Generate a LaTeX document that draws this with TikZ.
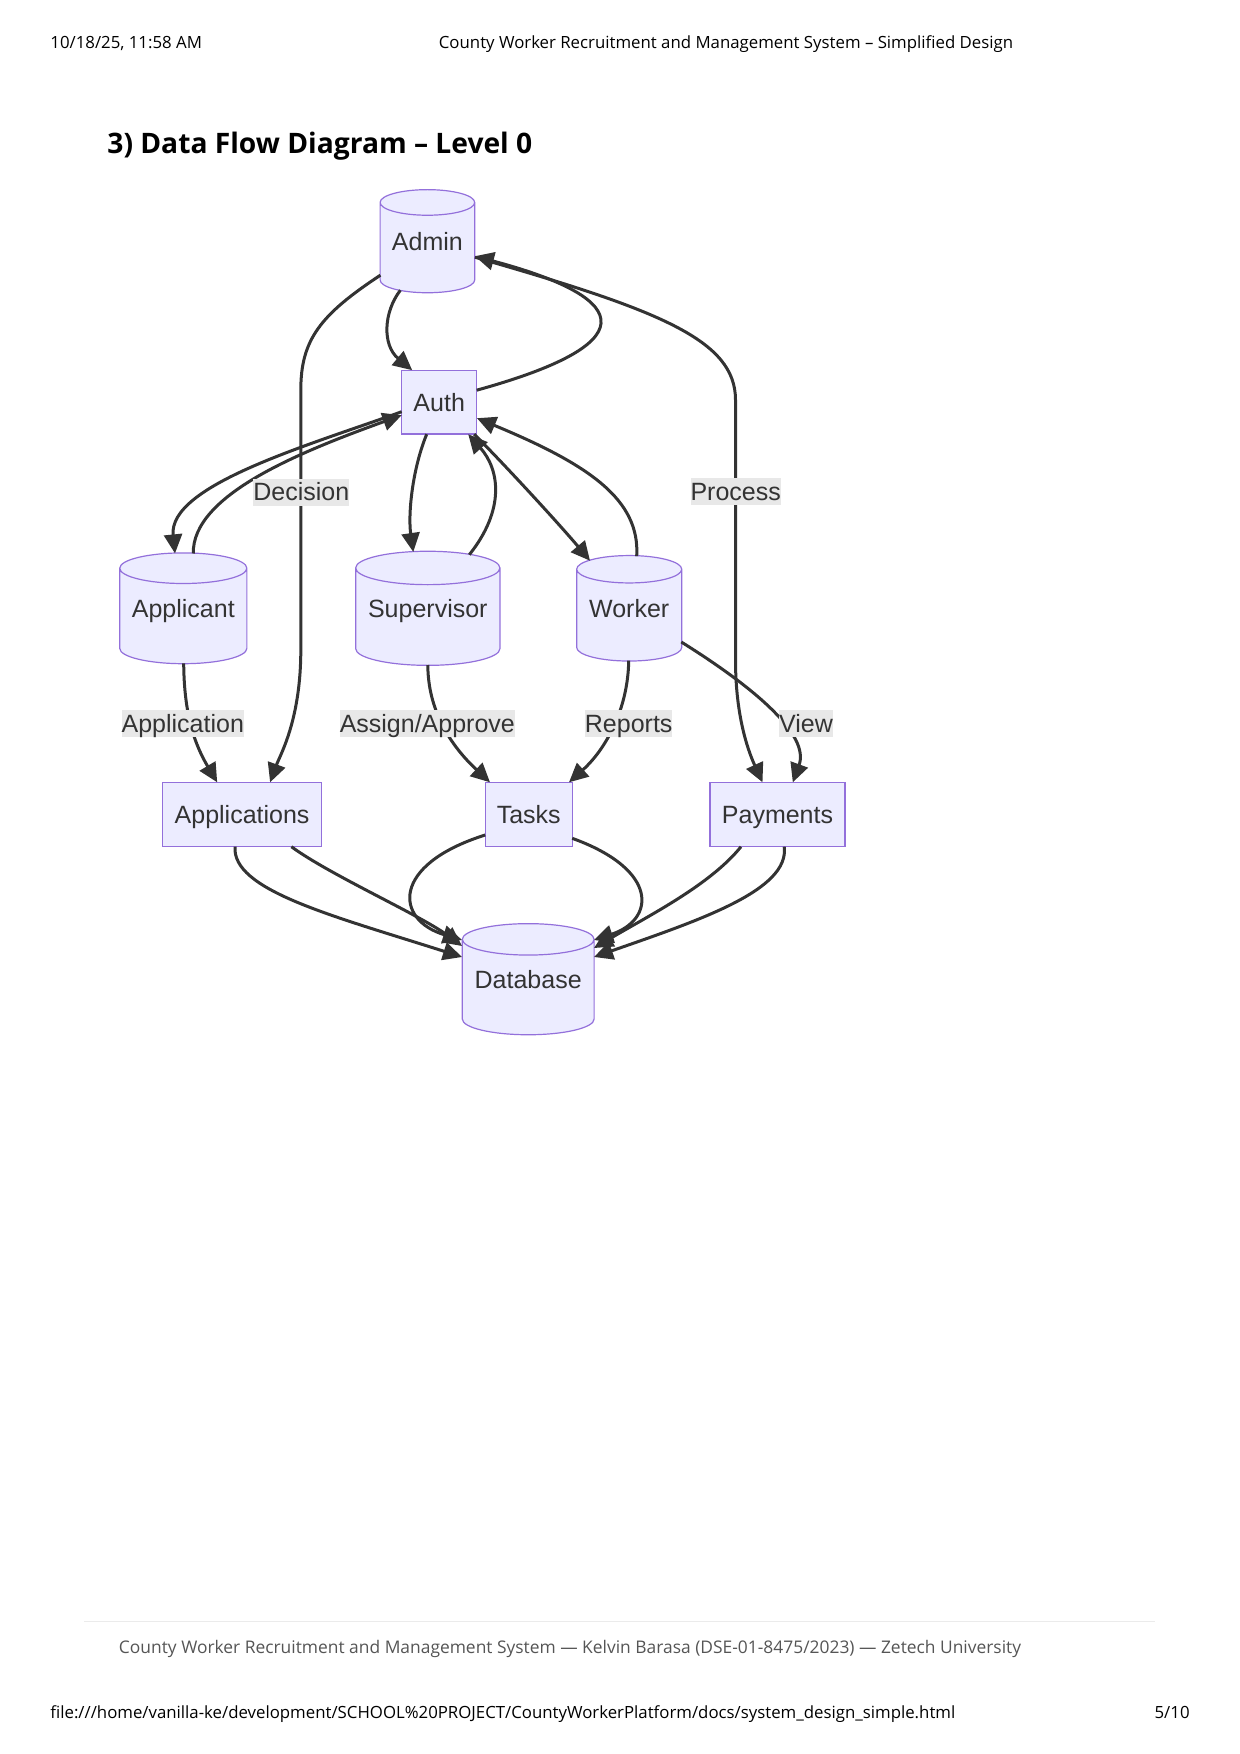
\documentclass[tikz,border=0pt]{standalone}
\usepackage{fontspec}
\setmainfont{Liberation Sans}
\newfontfamily\pagefont{Open Sans}
\usetikzlibrary{arrows.meta,calc}
\pgfdeclarelayer{bg}
\pgfsetlayers{bg,main}
\definecolor{nodefill}{HTML}{ECECFF}
\definecolor{nodeline}{HTML}{9370DB}
\definecolor{ink}{HTML}{333333}
\definecolor{lblbg}{HTML}{E8E8E8}
\definecolor{footgray}{HTML}{555555}

\begin{document}
\begin{tikzpicture}[x=0.5pt,y=-0.5pt,
  nodetext/.style={text=ink,font=\fontsize{12.5}{15}\selectfont,inner sep=0pt,text height=11pt,text depth=2pt},
  box/.style={nodetext,draw=nodeline,fill=nodefill,line width=0.6pt,minimum height=32pt},
  store/.style={nodetext},
  flow/.style={ink,line width=1.5pt,-{Triangle[length=9.5pt,width=9pt]}},
  lbl/.style={nodetext,fill=lblbg,text height=11.25pt,text depth=2.25pt},
  pagetext/.style={inner sep=0pt,font=\pagefont\fontsize{8.4}{10}\selectfont}]
\useasboundingbox (0,0) rectangle (1240,1754);

\node[pagetext,anchor=base west] (date) at (50,49) {10/18/25, 11:58 AM};
\node[pagetext,anchor=base] (title) at (726,49) {County Worker Recruitment and Management System – Simplified Design};
\node[inner sep=0pt,anchor=base west,font=\pagefont\bfseries\fontsize{14.1}{17}\selectfont] (heading) at (107,154) {3) Data Flow Diagram – Level 0};

\node[store,minimum width=46.9pt,minimum height=51.15pt] (admin) at (427.4,241.2) {Admin};
\node[box,minimum width=37.5pt,minimum height=31.85pt] (auth) at (439.2,402.2) {Auth};
\node[store,minimum width=63.15pt,minimum height=55pt] (applicant) at (183.3,608.3) {Applicant};
\node[store,minimum width=71.75pt,minimum height=56.65pt] (supervisor) at (427.8,608.3) {Supervisor};
\node[store,minimum width=52.15pt,minimum height=52.35pt] (worker) at (629.2,608.3) {Worker};
\node[box,minimum width=79.4pt] (applications) at (242.1,814.5) {Applications};
\node[box,minimum width=43.5pt] (tasks) at (528.7,814.5) {Tasks};
\node[box,minimum width=67.5pt] (payments) at (777.5,814.5) {Payments};
\node[store,minimum width=65.5pt,minimum height=55.15pt] (database) at (528.2,979.2) {Database};

\begin{pgfonlayer}{bg}
\foreach \s/\r in {admin/6.4,applicant/7.65,supervisor/8.35,worker/6.85,database/7.85}
  \draw[draw=nodeline,fill=nodefill,line width=0.6pt] let \p1=(\s.north west),\p2=(\s.south east),\n1={(\x2-\x1)/2} in
    (\x1,\y1-\r pt) -- (\x1,\y2+\r pt) arc[start angle=180,end angle=360,x radius=\n1,y radius=\r pt]
    -- (\x2,\y1-\r pt) arc[start angle=0,end angle=180,x radius=\n1,y radius=\r pt] -- cycle
    (\x1,\y1-\r pt) arc[start angle=180,end angle=360,x radius=\n1,y radius=\r pt];
\end{pgfonlayer}

\draw[flow] ($(admin)+(-27,49)$) .. controls +(-17,22) and +(-30,-25) .. ($(auth)+(-27,-32)$);
\draw[flow] ($(auth)+(37.5,-12)$) .. controls +(163,-45) and +(165,44) .. ($(admin)+(47.5,15)$);
\draw[flow] ($(admin)+(47.5,16)$) .. controls +(185,53) and +(0,-60) .. (735.5,400) -- (735.5,660)
  .. controls +(0,60) and +(-12.5,-27.3) .. ($(payments)+(-15,-32.2)$);
\draw[flow] ($(admin)+(-47,34)$) .. controls +(-60.4,39.8) and +(0,-50) .. (300.8,390) -- (300.8,650)
  .. controls +(0,70) and +(10,-27.3) .. ($(applications)+(28,-32.2)$);
\draw[flow] ($(auth)+(-37.5,9.5)$) .. controls +(-91.7,33.3) and +(-7,-68.4) .. ($(applicant)+(-8.3,-54.9)$);
\draw[flow] ($(applicant)+(10,-54.8)$) .. controls +(-1.3,-58.5) and +(-101.7,36.8) .. ($(auth)+(-37.5,13)$);
\draw[flow] ($(auth)+(-12.5,32)$) .. controls +(-14.7,35.8) and +(-5.3,-37) .. ($(supervisor)+(-14.5,-56.3)$);
\draw[flow] ($(supervisor)+(41.5,-53.6)$) .. controls +(35.7,-44.7) and +(31.8,35.8) .. ($(auth)+(29,32)$);
\draw[flow] ($(auth)+(35,32)$) .. controls +(30.8,30.8) and +(-30,-35.7) .. ($(worker)+(-39.2,-47.6)$);
\draw[flow] ($(worker)+(7.5,-52.2)$) .. controls +(3.3,-56.1) and +(113,46.8) .. ($(auth)+(37.8,16)$);
\draw[flow] ($(applicant)+(0.4,55)$) .. controls +(0.3,51.7) and +(-22.2,-37.3) .. ($(applications)+(-24.9,-32.2)$);
\draw[flow] ($(supervisor)+(0,56.7)$) .. controls +(0.2,45) and +(-40,-37.3) .. ($(tasks)+(-38.7,-32.2)$);
\draw[flow] ($(worker)+(-0.5,52.4)$) .. controls +(-0.7,49.3) and +(36,-32.3) .. ($(tasks)+(40.3,-32.2)$);
\draw[flow] ($(worker)+(52.1,33.7)$) .. controls +(73.7,46) and +(17.2,-47.3) .. ($(payments)+(15.3,-32.2)$);
\draw[flow] ($(applications)+(-7.1,32.2)$) .. controls +(-3,43.3) and +(-132,-42) .. ($(database)+(-66.2,-22.2)$);
\draw[flow] ($(applications)+(49.3,32.2)$) .. controls +(38.6,28.3) and +(-42,-31) .. ($(database)+(-66.2,-33.2)$);
\draw[flow] ($(tasks)+(-43.5,20.5)$) .. controls +(-95.2,30) and +(-67,-20) .. ($(database)+(-66.2,-39.2)$);
\draw[flow] ($(tasks)+(43.5,23.8)$) .. controls +(87.8,31.7) and +(61,-20) .. ($(database)+(65.8,-39.2)$);
\draw[flow] ($(payments)+(-36.5,32.2)$) .. controls +(-31,38.3) and +(56,-33) .. ($(database)+(65.8,-31.2)$);
\draw[flow] ($(payments)+(6.7,32.2)$) .. controls +(5.8,43.3) and +(106,-37) .. ($(database)+(65.8,-22.2)$);

\node[lbl] (declbl) at (301.3,492) {Decision};
\node[lbl] (proclbl) at (735.7,491) {Process};
\node[lbl] (applbl) at (182.8,723.7) {Application};
\node[lbl] (asglbl) at (427.3,723.7) {Assign/Approve};
\node[lbl] (replbl) at (628.7,723.7) {Reports};
\node[lbl] (viewlbl) at (806,723.7) {View};

\draw[black!8,line width=0.5pt] (84,1621) -- (1155,1621);
\node[pagetext,anchor=base,text=footgray,font=\pagefont\fontsize{8.7}{10}\selectfont] (footer) at (570,1653) {County Worker Recruitment and Management System — Kelvin Barasa (DSE-01-8475/2023) — Zetech University};
\node[pagetext,anchor=base west] (url) at (50,1718.5) {file:///home/vanilla-ke/development/SCHOOL\%20PROJECT/CountyWorkerPlatform/docs/system\_design\_simple.html};
\node[pagetext,anchor=base east] (page) at (1190,1718.5) {5/10};
\end{tikzpicture}
\end{document}
